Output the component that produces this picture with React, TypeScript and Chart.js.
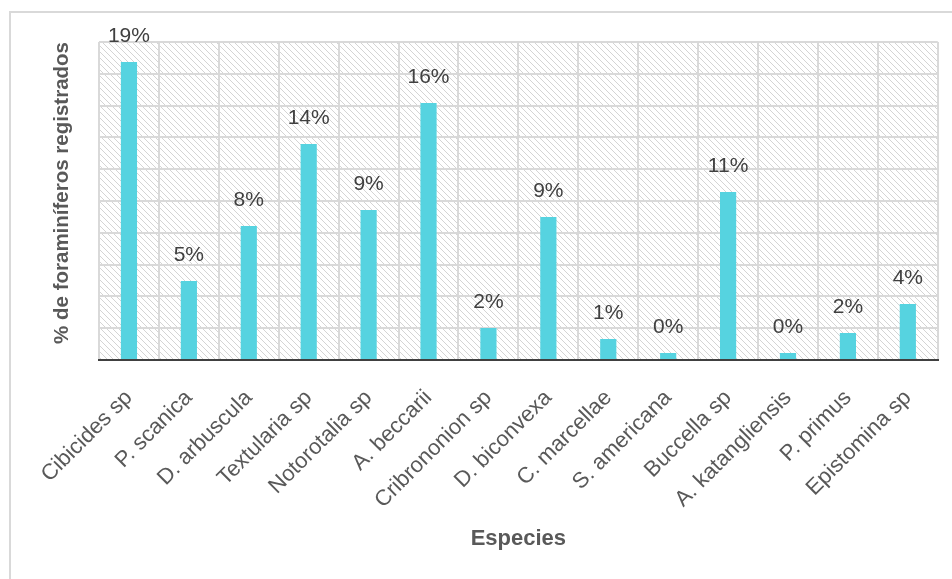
import React, { useEffect, useRef } from "react";
import { Chart, registerables } from "chart.js";

Chart.register(...registerables);

const categories = [
  "Cibicides sp",
  "P. scanica",
  "D. arbuscula",
  "Textularia sp",
  "Notorotalia sp",
  "A. beccarii",
  "Cribrononion sp",
  "D. biconvexa",
  "C. marcellae",
  "S. americana",
  "Buccella sp",
  "A. katangliensis",
  "P. primus",
  "Epistomina sp",
];

const percentValues = [18.74, 4.97, 8.43, 13.58, 9.43, 16.16, 2.01, 8.99, 1.32, 0.44, 10.57, 0.44, 1.7, 3.52];

const yAxisTitle = "% de foraminíferos registrados";
const xAxisTitle = "Especies";

const FONT = "'Liberation Sans', Arial, sans-serif";

function makeHatch(): CanvasPattern | string {
  const c = document.createElement("canvas");
  const s = 6;
  c.width = s;
  c.height = s;
  const g = c.getContext("2d");
  if (!g) return "#ffffff";
  g.fillStyle = "#ffffff";
  g.fillRect(0, 0, s, s);
  g.strokeStyle = "#d4d4d4";
  g.lineWidth = 1;
  g.beginPath();
  g.moveTo(-1, -1);
  g.lineTo(s + 1, s + 1);
  g.moveTo(-1 - s, -1);
  g.lineTo(1, s + 1);
  g.moveTo(s - 1, -1);
  g.lineTo(2 * s + 1, s + 1);
  g.stroke();
  const p = g.createPattern(c, "repeat");
  return p || "#ffffff";
}

export default function App() {
  const ref = useRef<HTMLCanvasElement | null>(null);

  useEffect(() => {
    if (!ref.current) return;
    const hatch = makeHatch();

    const bgPlugin = {
      id: "hatchBg",
      beforeDraw(chart: any) {
        const { ctx, chartArea } = chart;
        ctx.save();
        ctx.fillStyle = hatch as any;
        ctx.fillRect(chartArea.left, chartArea.top, chartArea.right - chartArea.left, chartArea.bottom - chartArea.top);
        ctx.restore();
      },
    };

    const labelPlugin = {
      id: "valueLabels",
      afterDatasetsDraw(chart: any) {
        const { ctx } = chart;
        const meta = chart.getDatasetMeta(0);
        ctx.save();
        ctx.font = `21px ${FONT}`;
        ctx.fillStyle = "#404040";
        ctx.textAlign = "center";
        ctx.textBaseline = "middle";
        meta.data.forEach((bar: any, i: number) => {
          const v = percentValues[i];
          ctx.fillText(`${Math.round(v)}%`, bar.x, bar.y - 26);
        });
        ctx.restore();
      },
    };

    const chart = new Chart(ref.current, {
      type: "bar",
      data: {
        labels: categories,
        datasets: [
          {
            data: percentValues,
            backgroundColor: "#56D3E0",
            borderWidth: 0,
            categoryPercentage: 1,
            barPercentage: 0.27,
          },
        ],
      },
      options: {
        responsive: false,
        animation: false,
        layout: { padding: { top: 42, right: 14, bottom: 0, left: 0 } },
        plugins: {
          legend: { display: false },
          tooltip: { enabled: false },
        },
        scales: {
          x: {
            grid: { color: "#d9d9d9", lineWidth: 2, drawTicks: false, offset: true },
            border: { display: true, color: "#404040", width: 2 },
            ticks: {
              minRotation: 45,
              maxRotation: 45,
              autoSkip: false,
              padding: 25,
              color: "#595959",
              font: { family: FONT, size: 22 },
            },
            title: {
              display: true,
              text: xAxisTitle,
              color: "#595959",
              font: { family: FONT, size: 22, weight: "bold" },
              padding: { top: 0, bottom: 27 },
            },
            afterFit(scale: any) {
              scale.height = 579 - 360;
            },
          },
          y: {
            min: 0,
            max: 20,
            ticks: { display: false, stepSize: 2 },
            grid: { color: "#d9d9d9", lineWidth: 2, drawTicks: false },
            border: { display: false },
            title: {
              display: true,
              text: yAxisTitle,
              align: "end",
              color: "#595959",
              font: { family: FONT, size: 20.5, weight: "bold" },
              padding: { top: 50, bottom: 0 },
            },
            afterFit(scale: any) {
              scale.width = 99;
            },
          },
        },
      },
      plugins: [bgPlugin, labelPlugin],
    });

    return () => chart.destroy();
  }, []);

  return (
    <div style={{ position: "fixed", left: 0, top: 0, width: 952, height: 579, overflow: "hidden", background: "#ffffff" }}>
      <div
        style={{
          position: "absolute",
          left: 9,
          top: 11,
          width: 1000,
          height: 700,
          border: "2px solid #d9d9d9",
          boxSizing: "border-box",
        }}
      />
      <canvas ref={ref} width={952} height={579} style={{ position: "absolute", left: 0, top: 0, width: 952, height: 579 }} />
    </div>
  );
}
